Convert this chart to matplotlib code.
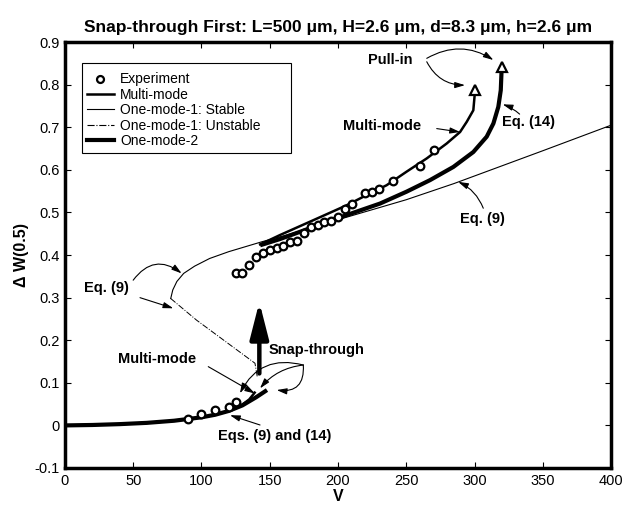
import matplotlib
matplotlib.use('Agg')
import matplotlib.pyplot as plt
from matplotlib.lines import Line2D
from matplotlib.patches import Rectangle

plt.rcParams['font.family'] = ['Liberation Sans', 'DejaVu Sans']

# experiment (open circles)
v_exp = [90, 100, 110, 120, 125, 125, 130, 135, 140, 145, 150, 155, 160, 165, 170,
         175, 180, 185, 190, 195, 200, 205, 210, 220, 225, 230, 240, 260, 270]
w_exp = [0.016, 0.026, 0.036, 0.043, 0.054, 0.359, 0.359, 0.377, 0.395, 0.406, 0.413,
         0.416, 0.422, 0.431, 0.433, 0.451, 0.466, 0.471, 0.477, 0.480, 0.490, 0.509,
         0.520, 0.545, 0.547, 0.555, 0.574, 0.610, 0.646]

# lower branches
v_low_mm = [0, 20, 40, 60, 80, 90, 100, 110, 120, 125, 130, 135, 139]
w_low_mm = [0, 0.001, 0.003, 0.006, 0.011, 0.015, 0.019, 0.025, 0.034, 0.040, 0.049, 0.061, 0.077]
v_low_1 = [0, 20, 40, 60, 80, 90, 100, 110, 120, 130, 140.5]
w_low_1 = [0, 0.001, 0.003, 0.006, 0.011, 0.015, 0.019, 0.025, 0.034, 0.047, 0.070]
v_low_2 = [0, 20, 40, 60, 80, 90, 100, 110, 120, 130, 140, 148]
w_low_2 = [0, 0.001, 0.003, 0.006, 0.011, 0.015, 0.019, 0.025, 0.034, 0.047, 0.066, 0.083]

# one-mode-1 unstable branch
v_unst = [77.5, 96.5, 139.2, 141]
w_unst = [0.298, 0.247, 0.146, 0.112]

# one-mode-1 upper stable branch
v_up_1 = [77.5, 79, 82, 87, 95, 106, 120, 144, 160, 200, 250, 285, 350, 400]
w_up_1 = [0.298, 0.318, 0.338, 0.357, 0.374, 0.392, 0.408, 0.431, 0.445, 0.483,
          0.530, 0.568, 0.645, 0.705]

# multi-mode upper branch
v_up_mm = [143, 157.5, 182, 206.4, 218.6, 235.6, 250.3, 265, 279.6, 289.4, 294.3, 299.1, 300.4]
w_up_mm = [0.425, 0.447, 0.482, 0.517, 0.537, 0.564, 0.596, 0.627, 0.662, 0.689, 0.713, 0.740, 0.787]

# one-mode-2 upper branch
v_up_2 = [143, 157.5, 182, 206.4, 230.8, 250.3, 267.4, 284.5, 299.1, 308.9, 313.8, 317.4, 319.2, 319.9]
w_up_2 = [0.423, 0.4376, 0.466, 0.494, 0.521, 0.549, 0.576, 0.607, 0.642, 0.678, 0.709,
          0.748, 0.787, 0.842]

# pull-in points
v_pull = [300.4, 319.9]
w_pull = [0.787, 0.842]

fig = plt.figure(figsize=(6.3, 5.14), dpi=100)
ax = fig.add_axes([0.103, 0.0895, 0.867, 0.8285])

ax.plot(v_low_1, w_low_1, 'k-', lw=0.8)
ax.plot(v_low_2, w_low_2, 'k-', lw=3.0, solid_capstyle='butt')
ax.plot(v_low_mm, w_low_mm, 'k-', lw=1.8)
ax.plot(v_unst, w_unst, 'k-.', lw=0.7)
ax.plot(v_up_1, w_up_1, 'k-', lw=0.8)
ax.plot(v_up_mm, w_up_mm, 'k-', lw=1.8)
ax.plot(v_up_2, w_up_2, 'k-', lw=3.0, solid_capstyle='butt')
ax.plot(v_exp, w_exp, 'o', mfc='white', mec='k', ms=5.5, mew=1.6)
ax.plot(v_pull, w_pull, '^', mfc='white', mec='k', ms=7, mew=1.6)

# snap-through arrow
ax.annotate('', xy=(142.4, 0.290), xytext=(142.4, 0.122),
            arrowprops=dict(arrowstyle='-|>,head_width=0.28,head_length=1.1',
                            lw=3.2, mutation_scale=20, color='k', shrinkA=0, shrinkB=0))

tkw = dict(fontsize=10.5, fontweight='bold', ha='center', va='center')
akw = dict(arrowstyle='-|>,head_width=0.15,head_length=0.5', lw=0.8, color='k',
           mutation_scale=12, shrinkA=0, shrinkB=0)

ax.text(238, 0.858, 'Pull-in', **tkw)
ax.annotate('', xy=(293, 0.799), xytext=(265, 0.854),
            arrowprops=dict(connectionstyle='arc3,rad=0.3', **akw))
ax.annotate('', xy=(313.8, 0.858), xytext=(265, 0.862),
            arrowprops=dict(connectionstyle='arc3,rad=-0.3', **akw))

ax.text(232, 0.7035, 'Multi-mode', **tkw)
ax.annotate('', xy=(289.4, 0.689), xytext=(272.3, 0.697), arrowprops=dict(**akw))

ax.text(339.4, 0.713, 'Eq. (14)', **tkw)
ax.annotate('', xy=(320.6, 0.754), xytext=(333, 0.731),
            arrowprops=dict(connectionstyle='arc3,rad=0.1', **akw))

ax.text(305.5, 0.4845, 'Eq. (9)', **tkw)
ax.annotate('', xy=(288, 0.572), xytext=(306.4, 0.51),
            arrowprops=dict(connectionstyle='arc3,rad=0.2', **akw))

ax.text(30.5, 0.323, 'Eq. (9)', **tkw)
ax.annotate('', xy=(85.5, 0.357), xytext=(50, 0.341),
            arrowprops=dict(connectionstyle='arc3,rad=-0.5', **akw))
ax.annotate('', xy=(79.4, 0.275), xytext=(55, 0.300), arrowprops=dict(**akw))

ax.text(67.8, 0.156, 'Multi-mode', **tkw)
ax.annotate('', xy=(139.2, 0.075), xytext=(105, 0.138), arrowprops=dict(**akw))

ax.text(149, 0.177, 'Snap-through', fontsize=10.5, fontweight='bold', ha='left', va='center')
hub = (174.6, 0.1418)
ax.annotate('', xy=(128.2, 0.0754), xytext=hub,
            arrowprops=dict(connectionstyle='arc3,rad=0.4', **akw))
ax.annotate('', xy=(142.9, 0.087), xytext=hub,
            arrowprops=dict(connectionstyle='arc3,rad=0.2', **akw))
ax.annotate('', xy=(155.1, 0.083), xytext=hub,
            arrowprops=dict(connectionstyle='arc3,rad=-0.6', **akw))

ax.text(153.5, -0.025, 'Eqs. (9) and (14)', **tkw)
ax.annotate('', xy=(120.9, 0.024), xytext=(142.9, 0.001), arrowprops=dict(**akw))

ax.set_xlim(0, 400)
ax.set_ylim(-0.1, 0.9)
ax.set_xticks(range(0, 401, 50))
ax.set_yticks([-0.1, 0, 0.1, 0.2, 0.3, 0.4, 0.5, 0.6, 0.7, 0.8, 0.9])
ax.set_yticklabels(['-0.1', '0', '0.1', '0.2', '0.3', '0.4', '0.5', '0.6', '0.7', '0.8', '0.9'])
ax.tick_params(direction='in', top=True, right=True, length=4, width=0.8,
               labelsize=10.5, pad=4)
for s in ax.spines.values():
    s.set_linewidth(2.5)

ax.set_xlabel('V', fontsize=11.5, fontweight='bold', labelpad=1)
ax.set_ylabel('Δ W(0.5)', fontsize=11.5, fontweight='bold', labelpad=4)
ax.set_title('Snap-through First: L=500 μm, H=2.6 μm, d=8.3 μm, h=2.6 μm',
             fontsize=12.5, fontweight='bold', pad=7)

# legend: MATLAB-style box with extra room on the right
ax.add_patch(Rectangle((0.031, 0.739), 0.383, 0.212, transform=ax.transAxes,
                       facecolor='white', edgecolor='k', lw=0.8, zorder=4))
handles = [
    Line2D([], [], ls='none', marker='o', mfc='white', mec='k', ms=5, mew=1.6),
    Line2D([], [], color='k', lw=1.8),
    Line2D([], [], color='k', lw=0.8),
    Line2D([], [], color='k', lw=0.8, ls='-.'),
    Line2D([], [], color='k', lw=3.0),
]
labels = ['Experiment', 'Multi-mode', 'One-mode-1: Stable', 'One-mode-1: Unstable', 'One-mode-2']
leg = ax.legend(handles, labels, loc='upper left', bbox_to_anchor=(0.0397, 0.929),
                fontsize=10, frameon=False, borderpad=0,
                handlelength=1.95, handletextpad=0.45, labelspacing=0.1,
                borderaxespad=0)
leg.set_zorder(5)

fig.savefig('out.png', dpi=100)
